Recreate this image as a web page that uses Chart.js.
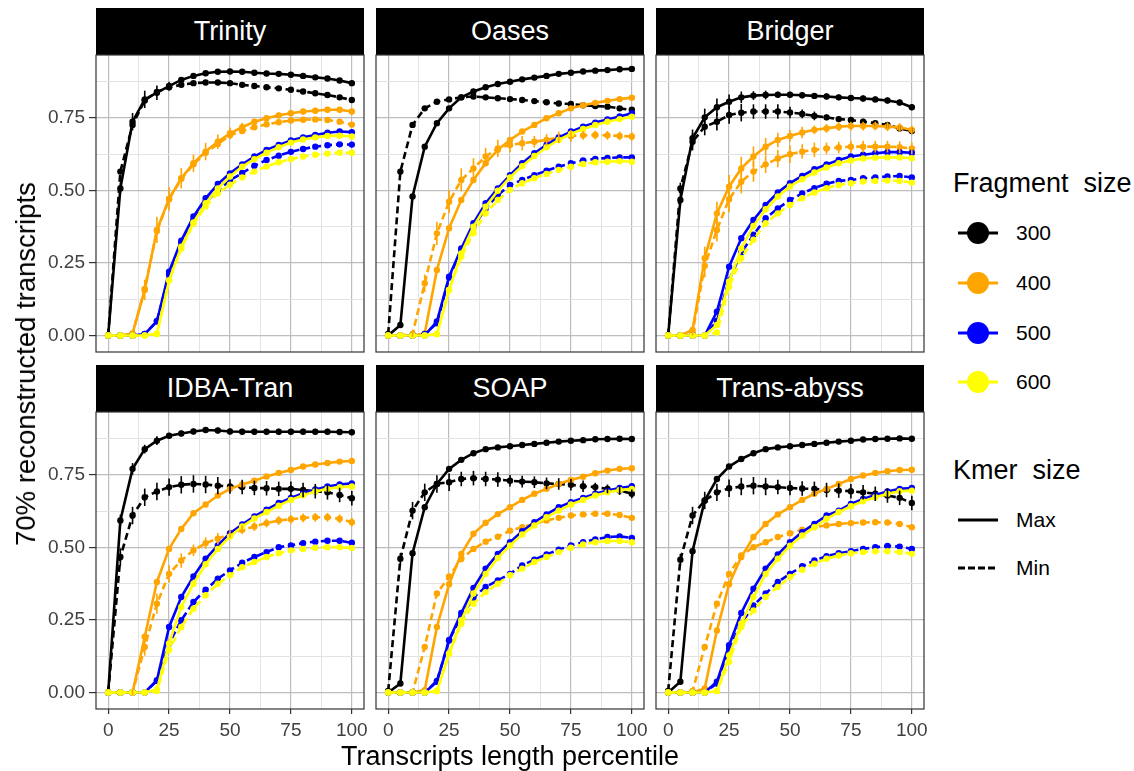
<!DOCTYPE html>
<html>
<head>
<meta charset="utf-8">
<script src="https://cdn.jsdelivr.net/npm/chart.js@4.4.1/dist/chart.umd.min.js"></script>
<style>
body { margin: 0; background: #fff; font-family: "Liberation Sans", Arial, sans-serif; }
#wrap { position: relative; width: 1134px; height: 771px; overflow: hidden; }
.strip { position: absolute; height: 47px; line-height: 47px; background: #000; color: #fff; font-size: 27px; text-align: center; }
canvas { position: absolute; }
.title { position: absolute; font-size: 27px; color: #000; white-space: pre; }
.lg-label { position: absolute; font-size: 21px; color: #000; line-height: 24px; }
.lg-key { position: absolute; }
</style>
</head>
<body>
<div id="wrap"></div>
<script>
// ─── data (x = transcript length percentile) ───
const xPct = [0, 5, 10, 15, 20, 25, 30, 35, 40, 45, 50, 55, 60, 65, 70, 75, 80, 85, 90, 95, 100];
const assemblers = ['Trinity', 'Oases', 'Bridger', 'IDBA-Tran', 'SOAP', 'Trans-abyss'];
const fragSizes = ['300', '400', '500', '600'];
const kmerSizes = ['Max', 'Min'];
const xTicks = [0, 25, 50, 75, 100];
const yTicks = [0, 0.25, 0.5, 0.75];

const trinity300max = [0, 0.507, 0.737, 0.814, 0.837, 0.860, 0.881, 0.895, 0.904, 0.909, 0.910, 0.909, 0.906, 0.903, 0.902, 0.899, 0.895, 0.890, 0.886, 0.879, 0.870];
const trinity300min = [0, 0.565, 0.726, 0.810, 0.840, 0.856, 0.864, 0.870, 0.872, 0.872, 0.870, 0.864, 0.860, 0.856, 0.852, 0.847, 0.841, 0.835, 0.829, 0.821, 0.812];
const trinity400max = [0, 0, 0.007, 0.157, 0.364, 0.471, 0.542, 0.594, 0.634, 0.668, 0.697, 0.718, 0.737, 0.749, 0.759, 0.766, 0.772, 0.775, 0.778, 0.778, 0.772];
const trinity400min = [0, 0, 0.005, 0.160, 0.360, 0.470, 0.540, 0.590, 0.630, 0.660, 0.690, 0.705, 0.718, 0.728, 0.735, 0.741, 0.744, 0.745, 0.743, 0.737, 0.727];
const trinity500max = [0, 0, 0, 0.005, 0.048, 0.220, 0.327, 0.410, 0.473, 0.522, 0.559, 0.590, 0.617, 0.640, 0.657, 0.672, 0.683, 0.691, 0.699, 0.703, 0.701];
const trinity500min = [0, 0, 0, 0.005, 0.050, 0.210, 0.320, 0.400, 0.460, 0.500, 0.535, 0.560, 0.585, 0.605, 0.620, 0.633, 0.643, 0.651, 0.656, 0.659, 0.658];
const trinity600max = [0, 0, 0, 0, 0.007, 0.190, 0.306, 0.390, 0.456, 0.507, 0.548, 0.582, 0.608, 0.630, 0.649, 0.665, 0.676, 0.683, 0.688, 0.689, 0.686];
const trinity600min = [0, 0, 0, 0, 0.005, 0.190, 0.300, 0.385, 0.445, 0.490, 0.520, 0.545, 0.565, 0.583, 0.597, 0.608, 0.617, 0.623, 0.627, 0.630, 0.630];

const oases300max = [0, 0.036, 0.479, 0.651, 0.732, 0.783, 0.821, 0.841, 0.856, 0.867, 0.875, 0.883, 0.889, 0.895, 0.902, 0.906, 0.910, 0.913, 0.915, 0.918, 0.919];
const oases300min = [0.005, 0.565, 0.726, 0.783, 0.806, 0.814, 0.821, 0.824, 0.821, 0.818, 0.815, 0.812, 0.808, 0.804, 0.800, 0.798, 0.794, 0.791, 0.789, 0.783, 0.778];
const oases400max = [0, 0, 0, 0.007, 0.226, 0.370, 0.467, 0.536, 0.594, 0.640, 0.674, 0.703, 0.726, 0.749, 0.766, 0.783, 0.794, 0.802, 0.809, 0.815, 0.820];
const oases400min = [0, 0, 0.005, 0.180, 0.352, 0.461, 0.536, 0.576, 0.617, 0.645, 0.657, 0.663, 0.668, 0.674, 0.683, 0.688, 0.690, 0.691, 0.690, 0.688, 0.686];
const oases500max = [0, 0, 0, 0, 0.048, 0.203, 0.300, 0.387, 0.456, 0.507, 0.553, 0.594, 0.628, 0.657, 0.683, 0.703, 0.720, 0.734, 0.745, 0.755, 0.766];
const oases500min = [0, 0, 0, 0.005, 0.042, 0.200, 0.295, 0.375, 0.438, 0.484, 0.519, 0.536, 0.553, 0.568, 0.582, 0.594, 0.603, 0.609, 0.612, 0.614, 0.614];
const oases600max = [0, 0, 0, 0, 0.005, 0.157, 0.283, 0.375, 0.444, 0.499, 0.545, 0.584, 0.619, 0.649, 0.674, 0.695, 0.712, 0.726, 0.737, 0.746, 0.754];
const oases600min = [0, 0, 0, 0, 0.005, 0.157, 0.272, 0.352, 0.421, 0.467, 0.502, 0.525, 0.542, 0.557, 0.571, 0.582, 0.591, 0.597, 0.599, 0.601, 0.599];

const bridger300max = [0, 0.467, 0.680, 0.752, 0.787, 0.806, 0.821, 0.827, 0.829, 0.830, 0.830, 0.828, 0.826, 0.824, 0.821, 0.819, 0.817, 0.814, 0.810, 0.803, 0.787];
const bridger300min = [0, 0.507, 0.668, 0.720, 0.737, 0.760, 0.768, 0.772, 0.772, 0.772, 0.769, 0.764, 0.757, 0.752, 0.746, 0.743, 0.737, 0.732, 0.726, 0.714, 0.705];
const bridger400max = [0, 0, 0.019, 0.266, 0.421, 0.513, 0.576, 0.617, 0.651, 0.674, 0.688, 0.700, 0.709, 0.714, 0.720, 0.722, 0.722, 0.722, 0.720, 0.717, 0.709];
const bridger400min = [0, 0, 0.010, 0.240, 0.364, 0.470, 0.530, 0.565, 0.590, 0.610, 0.625, 0.634, 0.640, 0.645, 0.648, 0.651, 0.651, 0.651, 0.651, 0.649, 0.645];
const bridger500max = [0, 0, 0, 0, 0.082, 0.237, 0.335, 0.398, 0.450, 0.493, 0.525, 0.550, 0.573, 0.590, 0.605, 0.617, 0.623, 0.628, 0.632, 0.632, 0.630];
const bridger500min = [0, 0, 0, 0, 0.050, 0.190, 0.286, 0.347, 0.404, 0.438, 0.467, 0.490, 0.508, 0.523, 0.533, 0.536, 0.542, 0.545, 0.548, 0.550, 0.545];
const bridger600max = [0, 0, 0, 0, 0.036, 0.186, 0.300, 0.378, 0.435, 0.479, 0.514, 0.539, 0.562, 0.579, 0.594, 0.603, 0.610, 0.613, 0.614, 0.614, 0.611];
const bridger600min = [0, 0, 0, 0, 0.010, 0.168, 0.266, 0.330, 0.387, 0.421, 0.450, 0.473, 0.493, 0.508, 0.519, 0.525, 0.531, 0.533, 0.534, 0.533, 0.527];

const idba300max = [0, 0.593, 0.771, 0.839, 0.868, 0.885, 0.893, 0.900, 0.905, 0.903, 0.900, 0.899, 0.899, 0.899, 0.899, 0.899, 0.899, 0.899, 0.899, 0.898, 0.897];
const idba300min = [0, 0.467, 0.610, 0.673, 0.693, 0.708, 0.716, 0.719, 0.717, 0.713, 0.710, 0.708, 0.705, 0.704, 0.702, 0.702, 0.698, 0.694, 0.690, 0.681, 0.670];
const idba400max = [0, 0, 0, 0.192, 0.381, 0.495, 0.564, 0.618, 0.648, 0.679, 0.702, 0.717, 0.730, 0.745, 0.757, 0.767, 0.779, 0.786, 0.791, 0.796, 0.798];
const idba400min = [0, 0, 0, 0.157, 0.306, 0.409, 0.455, 0.490, 0.515, 0.530, 0.547, 0.561, 0.572, 0.584, 0.593, 0.597, 0.602, 0.604, 0.604, 0.599, 0.587];
const idba500max = [0, 0, 0, 0, 0.042, 0.226, 0.329, 0.400, 0.461, 0.507, 0.549, 0.579, 0.607, 0.630, 0.653, 0.671, 0.687, 0.700, 0.710, 0.717, 0.721];
const idba500min = [0, 0, 0, 0, 0.040, 0.169, 0.249, 0.312, 0.354, 0.392, 0.421, 0.447, 0.467, 0.484, 0.501, 0.507, 0.515, 0.520, 0.523, 0.523, 0.516];
const idba600max = [0, 0, 0, 0, 0.010, 0.169, 0.295, 0.375, 0.442, 0.495, 0.538, 0.572, 0.600, 0.622, 0.644, 0.664, 0.680, 0.693, 0.702, 0.708, 0.710];
const idba600min = [0, 0, 0, 0, 0.005, 0.146, 0.226, 0.289, 0.335, 0.375, 0.404, 0.432, 0.450, 0.467, 0.480, 0.490, 0.495, 0.499, 0.501, 0.501, 0.498];

const soap300max = [0, 0.031, 0.480, 0.639, 0.719, 0.771, 0.802, 0.825, 0.839, 0.845, 0.849, 0.853, 0.857, 0.861, 0.865, 0.868, 0.870, 0.873, 0.874, 0.875, 0.874];
const soap300min = [0.005, 0.461, 0.627, 0.690, 0.719, 0.725, 0.736, 0.739, 0.736, 0.734, 0.730, 0.727, 0.725, 0.721, 0.719, 0.716, 0.711, 0.708, 0.702, 0.696, 0.685];
const soap400max = [0, 0, 0, 0.008, 0.226, 0.373, 0.478, 0.547, 0.585, 0.615, 0.639, 0.664, 0.685, 0.702, 0.719, 0.733, 0.744, 0.756, 0.765, 0.771, 0.773];
const soap400min = [0, 0, 0, 0.157, 0.341, 0.400, 0.460, 0.495, 0.520, 0.537, 0.558, 0.570, 0.581, 0.593, 0.602, 0.610, 0.614, 0.616, 0.616, 0.612, 0.602];
const soap500max = [0, 0, 0, 0, 0.037, 0.180, 0.274, 0.360, 0.427, 0.478, 0.518, 0.556, 0.587, 0.614, 0.639, 0.656, 0.671, 0.685, 0.696, 0.705, 0.711];
const soap500min = [0, 0, 0, 0, 0.040, 0.180, 0.263, 0.327, 0.364, 0.386, 0.409, 0.438, 0.458, 0.476, 0.492, 0.507, 0.518, 0.528, 0.536, 0.538, 0.533];
const soap600max = [0, 0, 0, 0, 0.005, 0.134, 0.249, 0.341, 0.409, 0.464, 0.507, 0.545, 0.576, 0.604, 0.627, 0.648, 0.664, 0.679, 0.690, 0.698, 0.702];
const soap600min = [0, 0, 0, 0, 0.005, 0.134, 0.237, 0.306, 0.346, 0.375, 0.404, 0.427, 0.450, 0.467, 0.484, 0.499, 0.510, 0.518, 0.522, 0.522, 0.518];

const abyss300max = [0, 0.037, 0.487, 0.662, 0.736, 0.779, 0.805, 0.825, 0.839, 0.845, 0.849, 0.853, 0.857, 0.861, 0.865, 0.868, 0.872, 0.874, 0.875, 0.876, 0.875];
const abyss300min = [0.005, 0.458, 0.610, 0.662, 0.690, 0.704, 0.710, 0.713, 0.710, 0.708, 0.705, 0.703, 0.702, 0.698, 0.696, 0.694, 0.690, 0.685, 0.679, 0.671, 0.653];
const abyss400max = [0, 0, 0, 0.014, 0.214, 0.373, 0.467, 0.536, 0.581, 0.614, 0.639, 0.664, 0.685, 0.702, 0.719, 0.736, 0.748, 0.757, 0.763, 0.767, 0.768];
const abyss400min = [0, 0, 0.005, 0.157, 0.306, 0.409, 0.472, 0.501, 0.518, 0.536, 0.549, 0.561, 0.570, 0.576, 0.581, 0.584, 0.586, 0.587, 0.586, 0.581, 0.570];
const abyss500max = [0, 0, 0, 0, 0.037, 0.163, 0.274, 0.358, 0.427, 0.476, 0.518, 0.553, 0.581, 0.610, 0.627, 0.650, 0.667, 0.681, 0.693, 0.702, 0.705];
const abyss500min = [0, 0, 0, 0, 0.031, 0.151, 0.237, 0.300, 0.341, 0.381, 0.409, 0.435, 0.455, 0.470, 0.480, 0.487, 0.495, 0.501, 0.505, 0.503, 0.495];
const abyss600max = [0, 0, 0, 0, 0.005, 0.128, 0.237, 0.329, 0.409, 0.461, 0.506, 0.541, 0.570, 0.599, 0.622, 0.642, 0.659, 0.673, 0.685, 0.694, 0.696];
const abyss600min = [0, 0, 0, 0, 0.005, 0.106, 0.226, 0.283, 0.329, 0.364, 0.398, 0.423, 0.444, 0.461, 0.472, 0.480, 0.484, 0.487, 0.487, 0.484, 0.478];

// error bar half-widths for the series where they show
const trinity300maxErr = [0, 0.02, 0.03, 0.03, 0.025, 0.015, 0.01, 0.01, 0.005, 0.005, 0.005, 0.005, 0.005, 0.005, 0.005, 0.005, 0.005, 0.005, 0.005, 0.005, 0.005];
const trinity400maxErr = [0, 0, 0, 0.035, 0.045, 0.04, 0.035, 0.03, 0.03, 0.025, 0.02, 0.015, 0.01, 0.01, 0.01, 0.01, 0.01, 0.01, 0.01, 0.01, 0.01];
const oases400minErr = [0, 0, 0.01, 0.03, 0.04, 0.04, 0.04, 0.035, 0.03, 0.03, 0.025, 0.025, 0.02, 0.02, 0.02, 0.02, 0.015, 0.015, 0.015, 0.015, 0.015];
const bridger300maxErr = [0, 0.02, 0.03, 0.03, 0.03, 0.025, 0.02, 0.015, 0.015, 0.01, 0.01, 0.01, 0.01, 0.01, 0.01, 0.01, 0.01, 0.01, 0.01, 0.01, 0.01];
const bridger300minErr = [0, 0.02, 0.03, 0.03, 0.03, 0.03, 0.03, 0.025, 0.025, 0.025, 0.02, 0.015, 0.015, 0.01, 0.01, 0.01, 0.01, 0.01, 0.01, 0.01, 0.01];
const bridger400maxErr = [0, 0, 0.01, 0.04, 0.04, 0.04, 0.04, 0.035, 0.03, 0.025, 0.02, 0.02, 0.015, 0.015, 0.015, 0.015, 0.015, 0.015, 0.015, 0.015, 0.015];
const bridger400minErr = [0, 0, 0.01, 0.04, 0.04, 0.045, 0.04, 0.035, 0.03, 0.03, 0.03, 0.025, 0.025, 0.02, 0.02, 0.02, 0.02, 0.02, 0.02, 0.02, 0.02];
const idba300maxErr = [0, 0.02, 0.02, 0.015, 0.015, 0.01, 0.01, 0.01, 0.01, 0.01, 0.01, 0.01, 0.01, 0.01, 0.01, 0.01, 0.01, 0.01, 0.01, 0.01, 0.01];
const idba300minErr = [0, 0.03, 0.03, 0.03, 0.03, 0.03, 0.03, 0.03, 0.03, 0.03, 0.025, 0.025, 0.025, 0.025, 0.025, 0.025, 0.025, 0.025, 0.025, 0.025, 0.025];
const idba400minErr = [0, 0, 0.01, 0.03, 0.035, 0.03, 0.025, 0.02, 0.02, 0.02, 0.015, 0.015, 0.015, 0.015, 0.015, 0.015, 0.015, 0.015, 0.015, 0.015, 0.015];
const soap300minErr = [0, 0.02, 0.03, 0.03, 0.03, 0.03, 0.025, 0.025, 0.025, 0.025, 0.02, 0.02, 0.02, 0.02, 0.02, 0.02, 0.02, 0.015, 0.015, 0.015, 0.015];
const abyss300minErr = [0, 0.02, 0.03, 0.03, 0.03, 0.03, 0.03, 0.03, 0.03, 0.025, 0.025, 0.025, 0.025, 0.025, 0.025, 0.025, 0.025, 0.025, 0.025, 0.025, 0.025];

// panel -> fragment -> [max, min]
const panelSeries = [
    [[trinity300max, trinity300min], [trinity400max, trinity400min], [trinity500max, trinity500min], [trinity600max, trinity600min]],
    [[oases300max, oases300min], [oases400max, oases400min], [oases500max, oases500min], [oases600max, oases600min]],
    [[bridger300max, bridger300min], [bridger400max, bridger400min], [bridger500max, bridger500min], [bridger600max, bridger600min]],
    [[idba300max, idba300min], [idba400max, idba400min], [idba500max, idba500min], [idba600max, idba600min]],
    [[soap300max, soap300min], [soap400max, soap400min], [soap500max, soap500min], [soap600max, soap600min]],
    [[abyss300max, abyss300min], [abyss400max, abyss400min], [abyss500max, abyss500min], [abyss600max, abyss600min]]
];
const errorBars = new Map([
    [trinity300max, trinity300maxErr], [trinity400max, trinity400maxErr],
    [oases400min, oases400minErr],
    [bridger300max, bridger300maxErr], [bridger300min, bridger300minErr],
    [bridger400max, bridger400maxErr], [bridger400min, bridger400minErr],
    [idba300max, idba300maxErr], [idba300min, idba300minErr], [idba400min, idba400minErr],
    [soap300min, soap300minErr],
    [abyss300min, abyss300minErr]
]);

// ─── look ───
const FONT = '"Liberation Sans", Arial, sans-serif';
const fragColors = ['#000000', '#FFA500', '#0000FF', '#FFFF00'];
const kmerDash = [[], [7, 4]];
const colLeft = [96, 376, 656];
const rowTop = [55, 411.5];
const stripTop = [8, 365];
const plotW = 268;
const plotH = 297;
const AXW = 60;   // room for y tick labels
const AXH = 46;   // room for x tick labels
const PAD = 16;   // canvas padding (keeps tick-label overflow from shrinking the plot area)

const isMajor = (v, step) => Math.abs(v / step - Math.round(v / step)) < 1e-6;

const panelBorder = {
    id: 'panelBorder',
    afterDraw(chart) {
        const { ctx, chartArea: a } = chart;
        ctx.save();
        ctx.strokeStyle = '#333333';
        ctx.lineWidth = 1.2;
        ctx.strokeRect(a.left, a.top, a.right - a.left, a.bottom - a.top);
        ctx.restore();
    }
};

// vertical error bars, drawn from each dataset's "errors" array
const errorBarPlugin = {
    id: 'errorBarPlugin',
    afterDatasetsDraw(chart) {
        const { ctx } = chart;
        const ys = chart.scales.y;
        ctx.save();
        ctx.lineWidth = 1.6;
        chart.data.datasets.forEach((ds, di) => {
            if (!ds.errors) return;
            const meta = chart.getDatasetMeta(di);
            ctx.strokeStyle = ds.borderColor;
            ds.data.forEach((pt, i) => {
                const e = ds.errors[i];
                if (!e) return;
                const x = meta.data[i].x;
                ctx.beginPath();
                ctx.moveTo(x, ys.getPixelForValue(pt.y - e));
                ctx.lineTo(x, ys.getPixelForValue(pt.y + e));
                ctx.stroke();
            });
        });
        ctx.restore();
    }
};

const wrap = document.getElementById('wrap');

assemblers.forEach((name, p) => {
    const col = p % 3, row = Math.floor(p / 3);
    const left = colLeft[col], top = rowTop[row];

    // strip
    const strip = document.createElement('div');
    strip.className = 'strip';
    strip.style.left = left + 'px';
    strip.style.top = stripTop[row] + 'px';
    strip.style.width = plotW + 'px';
    strip.textContent = name;
    wrap.appendChild(strip);

    // canvas
    const cv = document.createElement('canvas');
    const padBottom = row === 0 ? PAD : 0;
    const cw = AXW + plotW + PAD;
    const ch = PAD + plotH + (row === 1 ? AXH : 0) + padBottom;
    cv.width = cw; cv.height = ch;
    cv.style.left = (left - AXW) + 'px';
    cv.style.top = (top - PAD) + 'px';
    cv.style.width = cw + 'px';
    cv.style.height = ch + 'px';
    wrap.appendChild(cv);

    const datasets = [];
    panelSeries[p].forEach((pair, f) => {
        pair.forEach((vals, k) => {
            datasets.push({
                label: fragSizes[f] + ' ' + kmerSizes[k],
                data: xPct.map((x, i) => ({ x: x, y: vals[i] })),
                errors: errorBars.get(vals),
                borderColor: fragColors[f],
                backgroundColor: fragColors[f],
                borderWidth: 2.6,
                borderDash: kmerDash[k],
                pointRadius: 3.2,
                pointBorderWidth: 0,
                pointBackgroundColor: fragColors[f],
                tension: 0,
                order: 10 - f
            });
        });
    });

    const showY = col === 0, showX = row === 1;

    new Chart(cv.getContext('2d'), {
        type: 'line',
        data: { datasets },
        options: {
            responsive: false,
            animation: false,
            devicePixelRatio: 1,
            layout: { padding: { top: PAD, right: PAD, bottom: padBottom, left: 0 }, autoPadding: false },
            plugins: { legend: { display: false }, tooltip: { enabled: false } },
            scales: {
                x: {
                    type: 'linear',
                    min: -5, max: 105,
                    afterFit: s => { s.height = showX ? AXH : 0; },
                    ticks: {
                        stepSize: 12.5,
                        includeBounds: false,
                        autoSkip: false,
                        maxRotation: 0,
                        display: showX,
                        padding: 5,
                        color: '#404040',
                        font: { family: FONT, size: 19 },
                        callback: v => xTicks.includes(v) ? String(v) : ''
                    },
                    grid: {
                        color: c => isMajor(c.tick.value, 25) ? '#bdbdbd' : '#e3e3e3',
                        lineWidth: c => isMajor(c.tick.value, 25) ? 1.2 : 1,
                        drawTicks: showX,
                        tickLength: 5,
                        tickColor: c => isMajor(c.tick.value, 25) ? '#333333' : 'rgba(0,0,0,0)',
                        tickWidth: 1.2
                    },
                    border: { display: false }
                },
                y: {
                    type: 'linear',
                    min: -0.057, max: 0.967,
                    afterFit: s => { s.width = AXW; },
                    ticks: {
                        stepSize: 0.125,
                        includeBounds: false,
                        autoSkip: false,
                        display: showY,
                        padding: 4,
                        color: '#404040',
                        font: { family: FONT, size: 19 },
                        callback: v => yTicks.some(t => Math.abs(t - v) < 1e-6) ? v.toFixed(2) : ''
                    },
                    grid: {
                        color: c => isMajor(c.tick.value, 0.25) ? '#bdbdbd' : '#e3e3e3',
                        lineWidth: c => isMajor(c.tick.value, 0.25) ? 1.2 : 1,
                        drawTicks: showY,
                        tickLength: 7,
                        tickColor: c => isMajor(c.tick.value, 0.25) ? '#333333' : 'rgba(0,0,0,0)',
                        tickWidth: 1.2
                    },
                    border: { display: false }
                }
            }
        },
        plugins: [errorBarPlugin, panelBorder]
    });
});

// ─── axis titles ───
const xTitle = document.createElement('div');
xTitle.className = 'title';
xTitle.textContent = 'Transcripts length percentile';
xTitle.style.left = '510px';
xTitle.style.top = '756px';
xTitle.style.transform = 'translate(-50%, -50%)';
wrap.appendChild(xTitle);

const yTitle = document.createElement('div');
yTitle.className = 'title';
yTitle.textContent = '70% reconstructed transcripts';
yTitle.style.left = '26px';
yTitle.style.top = '364px';
yTitle.style.fontSize = '27.5px';
yTitle.style.transform = 'translate(-50%, -50%) rotate(-90deg)';
wrap.appendChild(yTitle);

// ─── legends ───
function addText(cls, text, x, y) {
    const d = document.createElement('div');
    d.className = cls;
    d.textContent = text;
    d.style.left = x + 'px';
    d.style.top = y + 'px';
    d.style.transform = 'translateY(-50%)';
    wrap.appendChild(d);
}
function addKey(y, color, dash, dot) {
    const ns = 'http://www.w3.org/2000/svg';
    const svg = document.createElementNS(ns, 'svg');
    svg.setAttribute('class', 'lg-key');
    svg.setAttribute('width', 44);
    svg.setAttribute('height', 26);
    svg.style.left = '956px';
    svg.style.top = (y - 13) + 'px';
    const ln = document.createElementNS(ns, 'line');
    ln.setAttribute('x1', 2); ln.setAttribute('x2', 42);
    ln.setAttribute('y1', 13); ln.setAttribute('y2', 13);
    ln.setAttribute('stroke', color);
    ln.setAttribute('stroke-width', 3);
    if (dash) ln.setAttribute('stroke-dasharray', '7 3');
    svg.appendChild(ln);
    if (dot) {
        const c = document.createElementNS(ns, 'circle');
        c.setAttribute('cx', 22); c.setAttribute('cy', 13); c.setAttribute('r', 11);
        c.setAttribute('fill', color);
        svg.appendChild(c);
    }
    wrap.appendChild(svg);
}

addText('title', 'Fragment  size', 953, 183);
const fragY = [233, 283, 333, 382];
fragSizes.forEach((s, i) => {
    addKey(fragY[i], fragColors[i], false, true);
    addText('lg-label', s, 1016, fragY[i]);
});
addText('title', 'Kmer  size', 953, 470);
const kmerY = [520, 568];
kmerSizes.forEach((s, i) => {
    addKey(kmerY[i], '#000000', i === 1, false);
    addText('lg-label', s, 1016, kmerY[i]);
});
</script>
</body>
</html>
